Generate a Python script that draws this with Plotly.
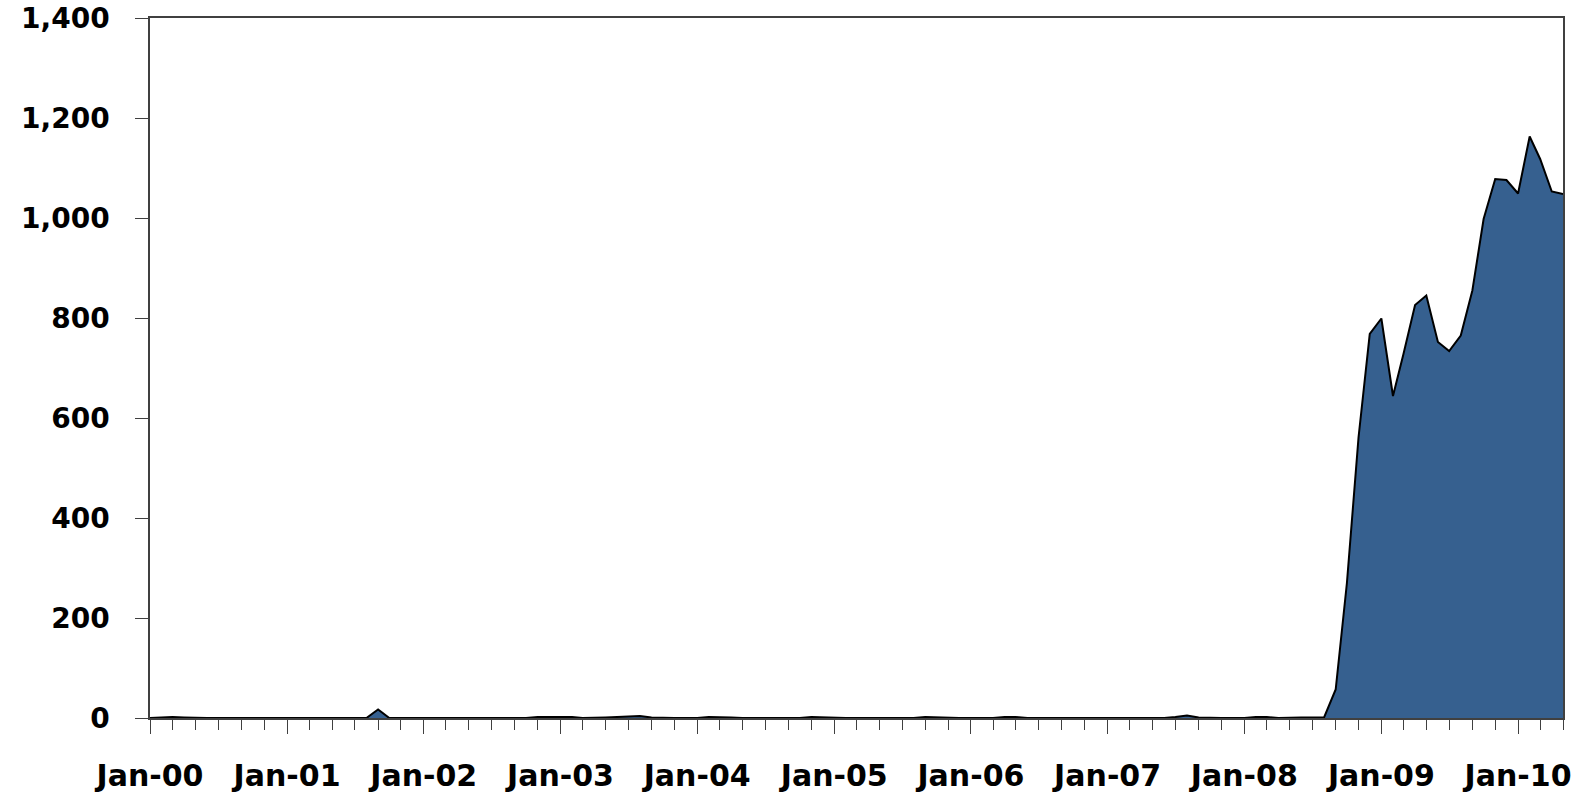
import pandas as pd
import plotly.graph_objects as go

# Monthly values, Jan-2000 .. May-2010
values_2000 = [0, 1, 2, 1, 0, 0, 0, 0, 1, 1, 1, 0]
values_2001 = [1, 1, 1, 0, 0, 1, 1, 0, 17, 0, 0, 0]
values_2002 = [0, 0, 0, 0, 0, 0, 0, 0, 0, 0, 2, 2]
values_2003 = [2, 2, 0, 0, 1, 2, 3, 4, 1, 0, 0, 0]
values_2004 = [0, 2, 2, 1, 0, 0, 0, 0, 0, 0, 2, 1]
values_2005 = [0, 0, 0, 0, 0, 0, 0, 0, 2, 1, 0, 0]
values_2006 = [0, 0, 0, 2, 2, 0, 0, 0, 0, 0, 0, 0]
values_2007 = [0, 0, 0, 0, 0, 0, 2, 5, 1, 0, 0, 0]
values_2008 = [0, 2, 2, 0, 1, 1, 1, 1, 57, 270, 561, 768]
values_2009 = [799, 644, 728, 826, 845, 752, 734, 765, 855, 998, 1078, 1076]
values_2010 = [1049, 1163, 1118, 1053, 1048]

values = (values_2000 + values_2001 + values_2002 + values_2003 + values_2004 +
          values_2005 + values_2006 + values_2007 + values_2008 + values_2009 +
          values_2010)
months = pd.date_range("2000-01-01", periods=len(values), freq="MS")

y_ticks = [0, 200, 400, 600, 800, 1000, 1200, 1400]

FONT = "DejaVu Sans"
fill_col = "#36608F"
axis_col = "#404040"

fig = go.Figure()
fig.add_trace(go.Scatter(
    x=months, y=values, mode="lines", fill="tozeroy",
    fillcolor=fill_col, line=dict(color="black", width=2),
    hoverinfo="x+y", showlegend=False,
))

fig.update_layout(
    width=1589, height=803,
    margin=dict(l=150, r=26, t=18, b=85, autoexpand=False),
    paper_bgcolor="white", plot_bgcolor="white",
    font=dict(family=FONT, color="black"),
)
fig.update_xaxes(
    type="date",
    range=[months[0], months[-1]],
    tick0="2000-01-01", dtick="M12", tickformat="%b-%y",
    ticks="outside", ticklen=14, tickwidth=1.2, tickcolor=axis_col,
    minor=dict(dtick="M2", ticks="outside", ticklen=10, tickwidth=1.2, tickcolor=axis_col),
    showline=True, linecolor=axis_col, linewidth=1.5, mirror=True,
    showgrid=False, zeroline=False,
    tickfont=dict(family=FONT, size=30, weight="bold", color="black"),
    ticklabelstandoff=16, ticklabeloverflow="allow",
)
fig.update_yaxes(
    range=[0, 1400], tickvals=y_ticks, tickformat=",",
    ticks="outside", ticklen=13, tickwidth=1.2, tickcolor=axis_col,
    showline=True, linecolor=axis_col, linewidth=1.5, mirror=True,
    showgrid=False, zeroline=False,
    tickfont=dict(family=FONT, size=28, weight="bold", color="black"),
    ticklabelstandoff=20, ticklabeloverflow="allow",
)

fig.write_html("out.html", config={"displayModeBar": False},
               post_script="document.body.style.margin='0';")
